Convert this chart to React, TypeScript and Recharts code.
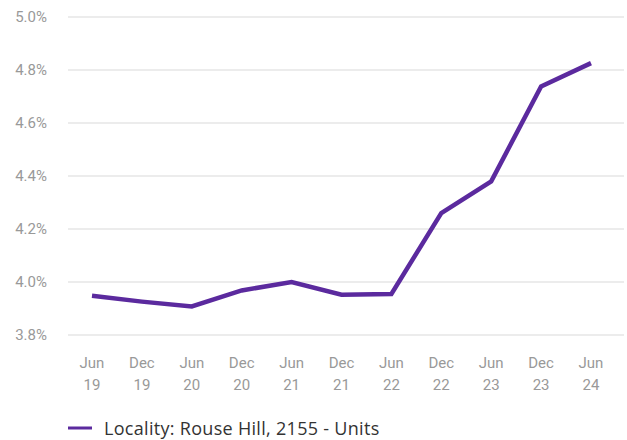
import { LineChart, Line, XAxis, YAxis, CartesianGrid, Legend } from 'recharts';

const periods = ['Jun 19', 'Dec 19', 'Jun 20', 'Dec 20', 'Jun 21', 'Dec 21', 'Jun 22', 'Dec 22', 'Jun 23', 'Dec 23', 'Jun 24'];
const yieldValues = [3.948, 3.926, 3.908, 3.968, 4.0, 3.952, 3.955, 4.26, 4.38, 4.738, 4.826];
const yTicks = [3.8, 4.0, 4.2, 4.4, 4.6, 4.8, 5.0];
const seriesName = 'Locality: Rouse Hill, 2155 - Units';

const LINE_COLOR = '#5b2a9e';
const FONT = 'Roboto, "Open Sans", sans-serif';
const LEGEND_FONT = '"Open Sans", Roboto, sans-serif';

const data = periods.map((p, i) => ({ period: p, value: yieldValues[i] }));

function PeriodTick({ x, y, payload }: any) {
  const [month, year] = String(payload.value).split(' ');
  return (
    <text x={x} y={y} textAnchor="middle" fill="#999" fontSize={15} fontFamily={FONT}>
      <tspan x={x} dy={25}>{month}</tspan>
      <tspan x={x} dy={22}>{year}</tspan>
    </text>
  );
}

function SeriesLegend() {
  return (
    <div style={{ display: 'flex', alignItems: 'center', paddingLeft: 68, paddingTop: 21, fontFamily: LEGEND_FONT }}>
      <svg width={26} height={6} style={{ marginRight: 10 }}>
        <line x1={0} y1={3} x2={24} y2={3} stroke={LINE_COLOR} strokeWidth={3} />
      </svg>
      <span style={{ fontSize: 18, color: '#333', letterSpacing: 0.3 }}>{seriesName}</span>
    </div>
  );
}

export default function App() {
  return (
    <div style={{ position: 'absolute', left: 0, top: 0, background: '#fff' }}>
      <LineChart width={627} height={440} data={data} margin={{ top: 17, right: 3, left: 0, bottom: 5 }}>
        <CartesianGrid vertical={false} stroke="#d9d9d9" />
        <XAxis
          dataKey="period"
          axisLine={false}
          tickLine={false}
          height={60}
          interval={0}
          padding={{ left: 24, right: 33 }}
          tick={<PeriodTick />}
        />
        <YAxis
          domain={[3.8, 5.0]}
          ticks={yTicks}
          axisLine={false}
          tickLine={false}
          width={68}
          tickMargin={15}
          tick={{ fill: '#999', fontSize: 15, fontFamily: FONT }}
          tickFormatter={(v: number) => `${v.toFixed(1)}%`}
        />
        <Legend verticalAlign="bottom" height={40} content={() => <SeriesLegend />} />
        <Line
          type="linear"
          dataKey="value"
          name={seriesName}
          stroke={LINE_COLOR}
          strokeWidth={4.5}
          dot={false}
          activeDot={false}
          isAnimationActive={false}
        />
      </LineChart>
    </div>
  );
}
